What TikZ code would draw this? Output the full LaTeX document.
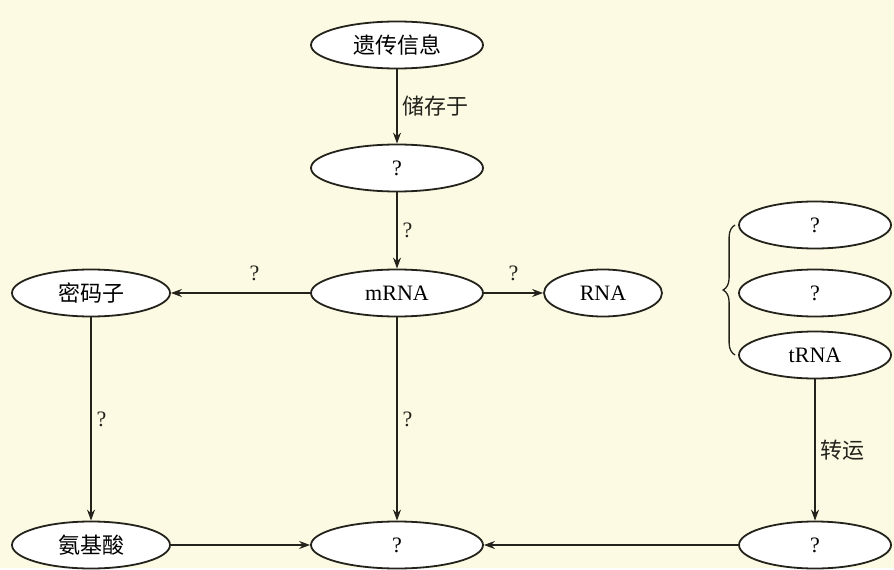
\documentclass[tikz,border=0pt]{standalone}
\usepackage{fontspec}
\setmainfont{Liberation Serif}
\newfontfamily\cjk{Noto Sans CJK SC}
\usetikzlibrary{arrows.meta, positioning, shapes.geometric, decorations.pathreplacing}
\definecolor{cpaper}{RGB}{253,250,228}
\definecolor{cline}{RGB}{35,35,28}

\begin{document}
\begin{tikzpicture}[
  x=1pt, y=-1pt,
  oval/.style  = {ellipse, draw=cline, line width=1.8pt, fill=white,
                  minimum width=#1, minimum height=47pt, inner sep=0pt,
                  font=\fontsize{22}{24}\selectfont},
  oval/.default = 172pt,
  arr/.style   = {-{Stealth[length=11pt,width=8pt]}, line width=1.4pt, cline},
  lbl/.style   = {font=\fontsize{22}{24}\selectfont, text=cline, inner sep=5pt},
]
% paper
\fill[cpaper] (0,0) rectangle (894,568);
% centre column
\node[oval]            (info)  at (397,45)  {\cjk 遗传信息};
\node[oval]            (store) at (397,168) {?};
\node[oval]            (mrna)  at (397,293) {mRNA};
\node[oval]            (prot)  at (397,545) {?};
% left column
\node[oval=158pt]      (codon) at (91,293)  {\cjk 密码子};
\node[oval=158pt]      (amino) at (91,545)  {\cjk 氨基酸};
% right side
\node[oval=118pt]      (rna)   at (603,293) {RNA};
\node[oval=152pt]      (r1)    at (815,225) {?};
\node[oval=152pt]      (r2)    at (815,293) {?};
\node[oval=152pt]      (trna)  at (815,355) {tRNA};
\node[oval=152pt]      (carry) at (815,545) {?};
% arrows
\draw[arr] (info)  -- node[lbl, right]{\cjk 储存于} (store);
\draw[arr] (store) -- node[lbl, right]{?} (mrna);
\draw[arr] (mrna)  -- node[lbl, above=6pt, pos=0.4]{?} (codon);
\draw[arr] (mrna)  -- node[lbl, above=6pt]{?} (rna);
\draw[arr] (codon) -- node[lbl, right]{?} (amino);
\draw[arr] (mrna)  -- node[lbl, right]{?} (prot);
\draw[arr] (trna)  -- node[lbl, right]{\cjk 转运} (carry);
\draw[arr] (amino) -- (prot);
\draw[arr] (carry) -- (prot);
% brace
\draw[cline, line width=1.3pt, decorate, decoration={brace, amplitude=12pt}]
  ([xshift=-3pt]trna.west) -- ([xshift=-3pt]r1.west);
\end{tikzpicture}
\end{document}
